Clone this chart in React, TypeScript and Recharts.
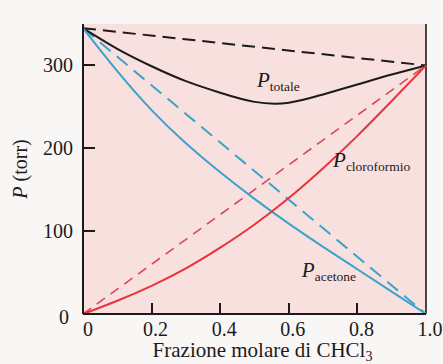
import React from "react"
import {
  LineChart,
  Line,
  XAxis,
  YAxis,
  ReferenceLine,
  ReferenceDot,
} from "recharts"

// mole fraction of CHCl3
const molarFraction = [0, 0.1, 0.2, 0.3, 0.4, 0.5, 0.6, 0.7, 0.8, 0.9, 1.0]
const acetone = [345, 293, 246, 206, 171, 139, 109, 81, 54, 27, 0]
const chloroform = [0, 16, 34, 55, 80, 108, 140, 176, 215, 257, 300]
const total = [345, 320, 299, 281, 267, 256, 255, 265, 277, 289, 300]

// ideal (Raoult) straight lines: only their end points
const idealX = [0, 1]
const idealAcetone = [345, 0]
const idealChloroform = [0, 300]
const idealTotal = [345, 300]

const xTicks = [0, 0.2, 0.4, 0.6, 0.8, 1.0]
const yTicks = [0, 100, 200, 300]
// inward tick marks
const xMarks = [0.2, 0.4, 0.6, 0.8]
const yMarks = [100, 200, 300]
const Y_MAX = 350

const measured = molarFraction.map((x, i) => ({
  x,
  acetone: acetone[i],
  chloroform: chloroform[i],
  total: total[i],
}))
const ideal = idealX.map((x, i) => ({
  x,
  acetone: idealAcetone[i],
  chloroform: idealChloroform[i],
  total: idealTotal[i],
}))

const SERIF = "'Liberation Serif', 'DejaVu Serif', serif"
const INK = "#1c1a1a"
const BLUE = "#3aa3cc"
const RED = "#e8323c"
const RED_DASH = "#dc4560"

const W = 443
const H = 364
const M = { top: 24, right: 17, left: 38, bottom: 0 }
const Y_AXIS_W = 45
const X_AXIS_H = 50

function XTick(props: any) {
  const { x, y, payload } = props
  const v = payload.value
  const label = v === 0 ? "0" : v.toFixed(1)
  return (
    <text x={v === 0 ? x + 5 : x + 4} y={y} dy="0.71em" textAnchor="middle" fontFamily={SERIF} fontSize={20} fill={INK}>
      {label}
    </text>
  )
}

function YTick(props: any) {
  const { x, y, payload } = props
  const v = payload.value
  return (
    <text x={v === 0 ? x - 4 : x} y={v === 0 ? y + 3 : y} dy="0.35em" textAnchor="end" fontFamily={SERIF} fontSize={20} fill={INK}>
      {v}
    </text>
  )
}

function Annot({ viewBox, sub }: any) {
  if (!viewBox) return null
  return (
    <text x={viewBox.x} y={viewBox.y} fontFamily={SERIF} fill={INK}>
      <tspan fontStyle="italic" fontSize={21}>P</tspan>
      <tspan fontSize={13.5} dy={4}>{sub}</tspan>
    </text>
  )
}

function YLabel({ viewBox }: any) {
  const cx = viewBox.x - 18
  const cy = viewBox.y + viewBox.height / 2
  return (
    <text x={cx} y={cy} transform={`rotate(-90, ${cx}, ${cy})`} textAnchor="middle" dy="0.35em" fontFamily={SERIF} fontSize={20} fill={INK}>
      <tspan fontStyle="italic">P</tspan> (torr)
    </text>
  )
}

function XLabel({ viewBox }: any) {
  const cx = viewBox.x + viewBox.width / 2 + 8
  return (
    <text x={cx} y={viewBox.y + 43} textAnchor="middle" fontFamily={SERIF} fontSize={21} fill={INK}>
      Frazione molare di CHCl<tspan fontSize={14} dy={4}>3</tspan>
    </text>
  )
}

export default function App() {
  const plotLeft = M.left + Y_AXIS_W
  const plotW = W - plotLeft - M.right
  const plotH = H - M.top - M.bottom - X_AXIS_H
  const plotBottom = M.top + plotH
  return (
    <div style={{ position: "absolute", left: 0, top: 0, width: W, height: H, background: "#f9f6f6" }}>
      {/* pink plot panel behind the svg */}
      <div style={{ position: "absolute", left: plotLeft, top: M.top, width: plotW, height: plotH, background: "#f8e0de" }} />
      <div style={{ position: "absolute", left: 0, top: 0 }}>
        <LineChart width={W} height={H} margin={M}>
          <XAxis
            type="number"
            dataKey="x"
            domain={[0, 1]}
            ticks={xTicks}
            height={X_AXIS_H}
            tickSize={0}
            tickMargin={8}
            tick={<XTick />}
            axisLine={{ stroke: INK, strokeWidth: 2 }}
            allowDuplicatedCategory={false}
            label={{ content: (p: any) => <XLabel {...p} /> }}
          />
          <YAxis
            type="number"
            domain={[0, Y_MAX]}
            ticks={yTicks}
            width={Y_AXIS_W}
            tickSize={0}
            tickMargin={10}
            tick={<YTick />}
            axisLine={{ stroke: INK, strokeWidth: 2 }}
            label={{ content: (p: any) => <YLabel {...p} /> }}
          />
          <ReferenceLine x={1} stroke={INK} strokeWidth={1.6} />

          <Line data={ideal} dataKey="total" stroke={INK} strokeWidth={2} strokeDasharray="13 7" dot={false} isAnimationActive={false} />
          <Line data={ideal} dataKey="acetone" stroke={BLUE} strokeWidth={2} strokeDasharray="14 8" dot={false} isAnimationActive={false} />
          <Line data={ideal} dataKey="chloroform" stroke={RED_DASH} strokeWidth={1.6} strokeDasharray="10 7" dot={false} isAnimationActive={false} />

          <Line data={measured} type="natural" dataKey="total" stroke={INK} strokeWidth={2} dot={false} isAnimationActive={false} />
          <Line data={measured} type="natural" dataKey="acetone" stroke={BLUE} strokeWidth={2} dot={false} isAnimationActive={false} />
          <Line data={measured} type="natural" dataKey="chloroform" stroke={RED} strokeWidth={2} dot={false} isAnimationActive={false} />

          <ReferenceDot x={0.507} y={274} r={0} stroke="none" fill="none" label={(p: any) => <Annot {...p} sub="totale" />} />
          <ReferenceDot x={0.729} y={177} r={0} stroke="none" fill="none" label={(p: any) => <Annot {...p} sub="cloroformio" />} />
          <ReferenceDot x={0.638} y={45} r={0} stroke="none" fill="none" label={(p: any) => <Annot {...p} sub="acetone" />} />
        </LineChart>
      </div>
      {/* inward tick marks on top of the svg */}
      {xMarks.map((v) => (
        <div
          key={`xm${v}`}
          style={{ position: "absolute", left: plotLeft + v * plotW - 1, top: plotBottom - 11, width: 2, height: 11, background: INK }}
        />
      ))}
      {yMarks.map((v) => (
        <div
          key={`ym${v}`}
          style={{ position: "absolute", left: plotLeft, top: M.top + (1 - v / Y_MAX) * plotH - 1, width: 12, height: 2, background: INK }}
        />
      ))}
    </div>
  )
}
